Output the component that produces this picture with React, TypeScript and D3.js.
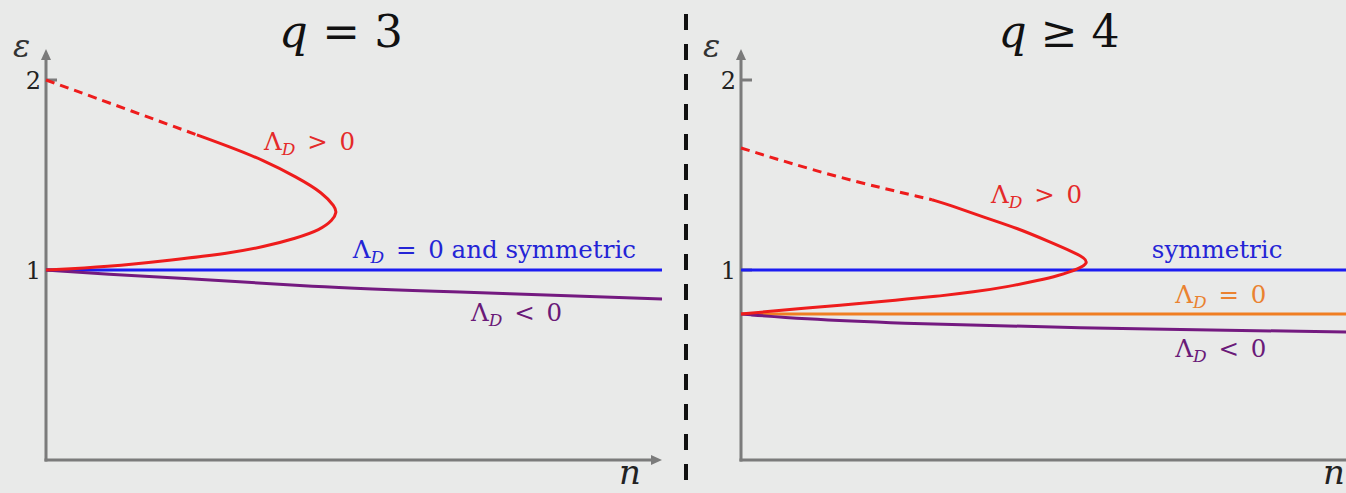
import React from "react";
import * as d3 from "d3";

// Energy branches ε(n) for the two cases, as [n, ε] pairs.
const q3RedDashed: [number, number][] = [
  [0, 2.0], [0.99, 1.884], [2.45, 1.711],
];
const q3RedSolid: [number, number][] = [
  [2.45, 1.711], [2.99, 1.647], [3.52, 1.579], [4.07, 1.489], [4.5, 1.405],
  [4.69, 1.332], [4.72, 1.305], [4.66, 1.263], [4.45, 1.211], [4.07, 1.168],
  [3.52, 1.121], [2.99, 1.089], [2.06, 1.053], [0.99, 1.016], [0, 1.0],
];
const q3Blue: [number, number][] = [[0, 1.0], [10, 1.0]];
const q3Purple: [number, number][] = [
  [0, 1.0], [1, 0.977], [2.16, 0.958], [4.32, 0.911], [6.5, 0.886], [10, 0.847],
];

const q4RedDashed: [number, number][] = [
  [0, 1.642], [1.53, 1.489], [3.1, 1.37],
];
const q4RedSolid: [number, number][] = [
  [3.1, 1.37], [3.39, 1.342], [3.93, 1.279], [4.48, 1.221], [5.02, 1.147],
  [5.39, 1.095], [5.58, 1.063], [5.63, 1.037], [5.5, 1.008], [5.13, 0.968],
  [4.85, 0.947], [4.32, 0.911], [3.77, 0.884], [3.23, 0.863], [2.69, 0.847],
  [2.14, 0.83], [1.61, 0.815], [1.07, 0.8], [0.52, 0.784], [0, 0.768],
];
const q4Blue: [number, number][] = [[0, 1.0], [10, 1.0]];
const q4Orange: [number, number][] = [[0, 0.768], [10, 0.768]];
const q4Purple: [number, number][] = [
  [0, 0.768], [1, 0.743], [2.44, 0.721], [5.2, 0.695], [9.8, 0.674], [10, 0.673],
];

const yTicks = [1, 2];
const titles = ["3", "4"];

const W = 1346;
const H = 493;
const FONT = "DejaVu Serif";
const AXIS = "#7b7b7b";
const RED = "#ee1c1c";
const BLUE = "#1c1cf2";
const PURPLE = "#741a80";
const ORANGE = "#f07e22";
const LABEL_SIZE = 24.5;

const y = d3.scaleLinear().domain([0, 2]).range([460, 80]);

const serif = { fontFamily: FONT };

// "Λ_D <rel> <rhs>" with a little extra room around the relation sign
function LambdaD({ x, yy, color, rel, rhs }: { x: number; yy: number; color: string; rel: string; rhs: string }) {
  return (
    <text x={x} y={yy} fill={color} style={serif} fontSize={LABEL_SIZE}>
      Λ
      <tspan fontStyle="italic" fontSize={17} dy={5}>D</tspan>
      <tspan dy={-5} dx={4}>{" " + rel + " "}</tspan>
      <tspan dx={4}>{rhs}</tspan>
    </text>
  );
}

function Panel({ x0, series, labels, nLabelX, epsDx }: {
  x0: number;
  series: { pts: [number, number][]; color: string; dashed?: boolean }[];
  labels: { n: number; e: number; color: string; rel?: string; rhs: string }[];
  nLabelX: number;
  epsDx: number;
}) {
  const x = d3.scaleLinear().domain([0, 10]).range([x0, x0 + 616]);
  const line = d3
    .line<[number, number]>()
    .x((d) => x(d[0]))
    .y((d) => y(d[1]))
    .curve(d3.curveBasis);
  const ax = x(0);
  const ay = y(0);
  return (
    <g>
      {/* axes */}
      <line x1={ax} y1={ay + 1.5} x2={ax} y2={58} stroke={AXIS} strokeWidth={3} />
      <path d={`M${ax},49 L${ax - 5},60 L${ax + 5},60 Z`} fill={AXIS} />
      <line x1={ax - 1.5} y1={ay} x2={x(10) - 8} y2={ay} stroke={AXIS} strokeWidth={3} />
      <path d={`M${x(10)},${ay} L${x(10) - 11},${ay - 5} L${x(10) - 11},${ay + 5} Z`} fill={AXIS} />
      {yTicks.map((t) => (
        <g key={t}>
          <line x1={ax} x2={ax + 11} y1={y(t)} y2={y(t)} stroke={AXIS} strokeWidth={3} />
          <text x={ax - 5} y={y(t) + 9} textAnchor="end" style={serif} fontSize={24} fill="#222">
            {t}
          </text>
        </g>
      ))}
      <text x={ax + epsDx} y={57} style={serif} fontStyle="italic" fontSize={32} fill="#333">ε</text>
      <text x={nLabelX} y={484} style={serif} fontStyle="italic" fontSize={34} fill="#222">n</text>
      {series.map((s, i) => (
        <path
          key={i}
          d={line(s.pts) || ""}
          fill="none"
          stroke={s.color}
          strokeWidth={3}
          strokeDasharray={s.dashed ? "9 6" : undefined}
          strokeLinecap="butt"
        />
      ))}
      {labels.map((l, i) =>
        l.rel ? (
          <LambdaD key={i} x={x(l.n)} yy={y(l.e)} color={l.color} rel={l.rel} rhs={l.rhs} />
        ) : (
          <text key={i} x={x(l.n)} y={y(l.e)} fill={l.color} style={serif} fontSize={LABEL_SIZE}>
            {l.rhs}
          </text>
        )
      )}
    </g>
  );
}

export default function App() {
  return (
    <svg width={W} height={H} style={{ position: "absolute", left: 0, top: 0, display: "block" }}>
      <rect width={W} height={H} fill="#e9eae9" />
      <text x={341} y={47} textAnchor="middle" style={serif} fontSize={45} fill="#111">
        <tspan fontStyle="italic">q</tspan> = {titles[0]}
      </text>
      <text x={1059} y={47} textAnchor="middle" style={serif} fontSize={44} fill="#111">
        <tspan fontStyle="italic">q</tspan> ≥ {titles[1]}
      </text>
      <line x1={686} x2={686} y1={14} y2={H} stroke="#111" strokeWidth={4} strokeDasharray="16 14" />
      <Panel
        x0={46}
        nLabelX={619}
        epsDx={-33}
        series={[
          { pts: q3Blue, color: BLUE },
          { pts: q3Purple, color: PURPLE },
          { pts: q3RedDashed, color: RED, dashed: true },
          { pts: q3RedSolid, color: RED },
        ]}
        labels={[
          { n: 3.54, e: 1.632, color: "#e42a2a", rel: ">", rhs: "0" },
          { n: 4.98, e: 1.063, color: "#2424d6", rel: "=", rhs: "0 and symmetric" },
          { n: 6.9, e: 0.732, color: "#6a1a78", rel: "<", rhs: "0" },
        ]}
      />
      <Panel
        x0={741}
        nLabelX={1323}
        epsDx={-38}
        series={[
          { pts: q4Blue, color: BLUE },
          { pts: q4Orange, color: ORANGE },
          { pts: q4Purple, color: PURPLE },
          { pts: q4RedDashed, color: RED, dashed: true },
          { pts: q4RedSolid, color: RED },
        ]}
        labels={[
          { n: 4.06, e: 1.353, color: "#e42a2a", rel: ">", rhs: "0" },
          { n: 6.67, e: 1.063, color: "#2424d6", rhs: "symmetric" },
          { n: 7.05, e: 0.826, color: "#ea8230", rel: "=", rhs: "0" },
          { n: 7.05, e: 0.542, color: "#6a1a78", rel: "<", rhs: "0" },
        ]}
      />
    </svg>
  );
}
